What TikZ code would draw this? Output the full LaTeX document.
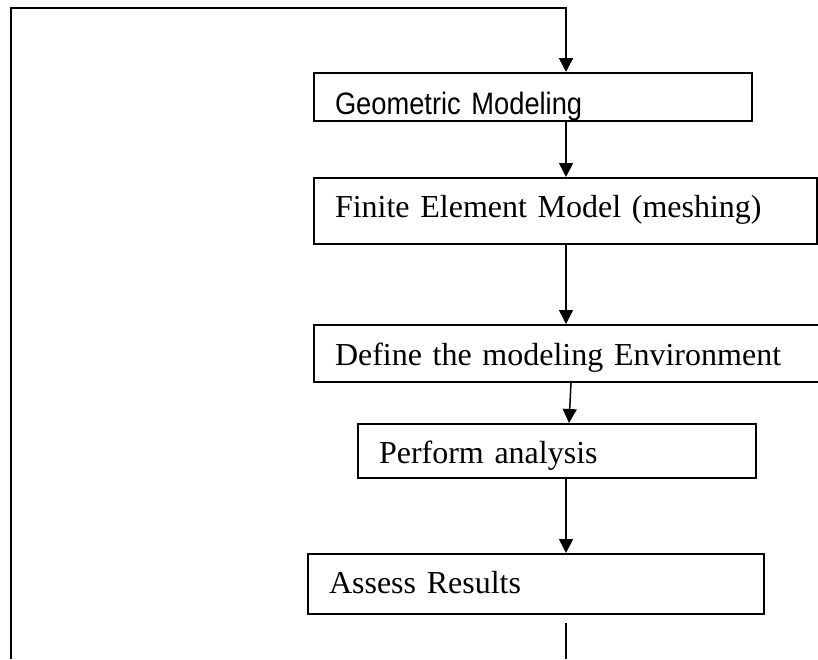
\documentclass[tikz,border=0pt]{standalone}
\usepackage{fontspec}
\setmainfont{Liberation Serif}
\newfontfamily\geofont[FakeStretch=0.88]{Liberation Sans}
\usetikzlibrary{arrows.meta}

\newcommand{\stage}[8]{\node[box, anchor=north west, minimum width=#4, minimum height=#5, text width=#6, text height=#7] (#1) at (#2,#3) {#8};}
\tikzset{
  box/.style={draw, line width=2pt, rectangle, inner xsep=21pt, text depth=0pt, align=left,
    font=\fontsize{32}{38}\selectfont},
  flow/.style={-{Triangle[width=14pt,length=14pt]}, line width=1.5pt},
  wire/.style={line width=1.5pt}
}

\begin{document}
\begin{tikzpicture}[x=1pt, y=-1pt]
  \useasboundingbox (0,0) rectangle (818,659);

  % Stages
  % ------
  \stage{geo}{313}{72}{438pt}{48pt}{396pt}{34pt}{\geofont\fontsize{31}{36}\selectfont Geometric Modeling}
  \stage{fem}{313}{177}{503pt}{66pt}{461pt}{12pt}{Finite Element Model (meshing)}
  \stage{env}{313}{324}{520pt}{57pt}{478pt}{23pt}{Define the modeling Environment}
  \stage{perf}{357}{423}{398pt}{54pt}{356pt}{24pt}{Perform analysis}
  \stage{res}{307}{553}{456pt}{60pt}{414pt}{18pt}{Assess Results}

  % Arrows
  % ------
  \coordinate (mid) at (566,0);
  \coordinate (tail) at (566,659);
  \coordinate (loopstart) at (11,659);
  \coordinate (corner) at (11,8);

  \draw[flow] (geo.south -| mid) -- (fem.north -| mid);
  \draw[flow] (fem.south -| mid) -- (env.north -| mid);
  \draw[flow] ([xshift=5pt]env.south -| mid) -- ([xshift=3pt]perf.north -| mid);
  \draw[flow] (perf.south -| mid) -- (res.north -| mid);
  \draw[wire] ([yshift=-8pt]res.south -| tail) -- (tail);

  % Feedback loop
  \draw[flow, line width=2pt] (loopstart) -- (corner) -| (geo.north -| mid);
\end{tikzpicture}
\end{document}
